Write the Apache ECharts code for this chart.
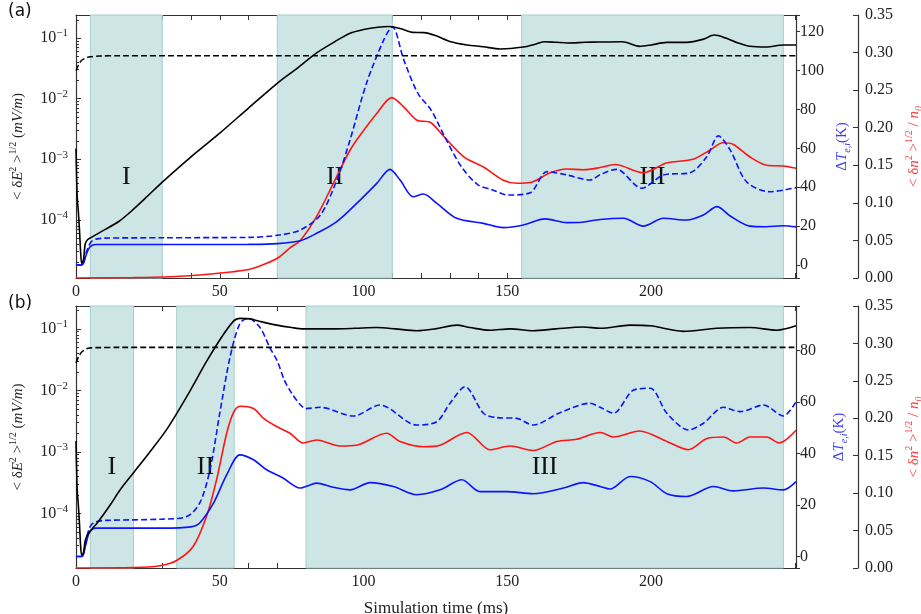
<!DOCTYPE html>
<html>
<head>
<meta charset="utf-8">
<script src="https://cdn.jsdelivr.net/npm/echarts@6/dist/echarts.min.js"></script>
<style>
  html, body { margin: 0; padding: 0; background: #fff; }
  #main { width: 921px; height: 614px; }
</style>
</head>
<body>
<div id="main"></div>
<script>
// time axis (ms)
const tMax = 250.4
const timeTicks = [0, 50, 100, 150, 200]

// shaded stages [start, end] (ms)
const stageNames = ['I', 'II', 'III']
const stagesA = [[5, 30], [70, 110], [155, 246]]
const stagesB = [[5, 20], [35, 55], [80, 246]]

// (a) Regularized
// <dE^2>^1/2 (mV/m), log axis
const aField = [[0, 1.5e-3], [0.4, 2.5e-4], [0.8, 1.4e-4], [1.2, 7e-5], [1.6, 3e-5], [2, 1.9e-5], [2.6, 2.2e-5], [3.2, 4e-5], [4, 4.7e-5], [5.5, 5.2e-5], [10, 6.9e-5], [15, 9.5e-5], [20, 1.5e-4], [25, 2.5e-4], [30, 4.2e-4], [40, 1.1e-3], [50, 2.7e-3], [60, 7e-3], [70.6, 1.9e-2], [77, 3.2e-2], [83.7, 5.7e-2], [90, 8.7e-2], [95.3, 0.12], [100, 0.138], [105, 0.151], [109, 0.155], [113, 0.142], [117, 0.124], [121, 0.123], [125, 0.11], [130, 0.088], [136, 0.077], [141.6, 0.072], [147.5, 0.066], [155.6, 0.071], [160, 0.08], [163, 0.087], [167, 0.085], [171, 0.083], [177, 0.085], [182, 0.086], [190, 0.087], [196, 0.073], [200, 0.077], [205.4, 0.085], [212.4, 0.085], [218, 0.095], [222, 0.112], [226, 0.1], [230, 0.084], [234.4, 0.073], [240, 0.071], [246, 0.077], [250.4, 0.077]]
const aLevel = [[0, 0.029], [1, 0.037], [2, 0.043], [3.5, 0.047], [5, 0.049], [8, 0.0505], [15, 0.051], [250.4, 0.051]]
// dT_e,i (K)
const aTsolid = [[0, 0], [2, 0], [2.5, 0.5], [3.5, 5], [4.5, 8.5], [5.5, 10], [7, 10.5], [20, 10.5], [40, 10.5], [60, 10.6], [70, 11], [78, 12.5], [83.7, 16.3], [90.7, 22.3], [98.8, 33.4], [104.6, 42], [109.2, 49.2], [112.7, 43.7], [117.3, 35.1], [120.8, 36.5], [125.5, 31.7], [132.4, 24], [141.7, 21.4], [148.6, 19.2], [155.6, 20.6], [163.1, 23.7], [170.7, 21.8], [176, 22], [182.3, 23.4], [190.4, 24], [197.3, 20], [204.3, 24], [212.4, 23.1], [218.2, 25.7], [222.9, 30], [227.5, 25.2], [234.4, 20], [240, 19.7], [246, 20.2], [250.4, 19.6]]
const aTdashed = [[0, 0], [2, 0], [2.5, 0.5], [3.5, 6], [4.5, 10], [5.5, 12.2], [7, 13.3], [10, 13.8], [30, 14], [60.5, 14.2], [70.7, 15.4], [78, 18], [85, 25.7], [90.7, 43.7], [95.3, 64.3], [101, 93.4], [107, 115.7], [110, 122.6], [114, 105.5], [118.9, 88.3], [123.5, 79.7], [128.2, 66], [134, 50.6], [139.8, 41.2], [144.4, 38.9], [150.2, 36], [158, 37.2], [163.8, 48], [170.7, 46.3], [178.8, 43.7], [182.3, 46.5], [188, 49.2], [196.7, 39.5], [204.3, 46.3], [213.6, 47.5], [219.4, 55.7], [223.4, 66.4], [227.5, 59.2], [233.2, 42.8], [241.3, 37.7], [250.4, 39.8]]
// <dn^2>^1/2 / n0
const aDn = [[0, 0], [20, 0.0005], [33, 0.0017], [43, 0.004], [54.7, 0.0084], [60.5, 0.0116], [66.3, 0.0196], [70.7, 0.028], [74.4, 0.04], [78, 0.05], [83.7, 0.082], [89.5, 0.126], [95.3, 0.17], [98.8, 0.19], [104.6, 0.219], [109.8, 0.24], [113.9, 0.228], [118.6, 0.21], [123.3, 0.207], [128, 0.188], [135, 0.161], [141.6, 0.148], [148.6, 0.13], [153.3, 0.126], [158, 0.127], [164.9, 0.14], [170.7, 0.145], [176.5, 0.144], [182.3, 0.147], [187.5, 0.151], [197.3, 0.14], [205.4, 0.153], [214.6, 0.158], [220.4, 0.17], [225, 0.18], [228.5, 0.178], [234.4, 0.161], [240.2, 0.15], [246, 0.149], [250.4, 0.146]]

// (b) Unregularized
const bField = [[0, 1.5e-3], [0.4, 2.5e-4], [0.8, 1.4e-4], [1.2, 7e-5], [1.6, 3e-5], [2, 2.1e-5], [2.6, 2.3e-5], [3.2, 3.6e-5], [4, 4.5e-5], [5.5, 5.5e-5], [8.3, 8e-5], [12, 1.4e-4], [15.3, 2.4e-4], [20, 4.6e-4], [25, 9.1e-4], [31.5, 2.3e-3], [38.5, 7.9e-3], [45.4, 2.95e-2], [50, 6.6e-2], [54.7, 0.132], [57, 0.148], [60.5, 0.145], [64, 0.132], [69.8, 0.115], [75, 0.105], [79, 0.1], [84, 0.1], [89.5, 0.1], [97, 0.102], [104.6, 0.105], [111, 0.1], [118.5, 0.093], [125, 0.1], [132.4, 0.115], [137, 0.105], [144, 0.095], [151, 0.1], [159, 0.093], [167, 0.1], [176.4, 0.107], [182.3, 0.102], [192.7, 0.115], [199.7, 0.112], [211.2, 0.091], [222.8, 0.102], [234.4, 0.105], [243.7, 0.095], [250.4, 0.112]]
const bLevel = [[0, 0.028], [1, 0.036], [2, 0.042], [3.5, 0.047], [5, 0.049], [8, 0.0495], [15, 0.05], [250.4, 0.05]]
const bTsolid = [[0, 0], [2, 0], [2.5, 0.5], [3.5, 5], [4.5, 9], [5.5, 10.5], [7, 11], [30, 11], [40, 11.5], [43, 13], [47.8, 20.7], [52.4, 31.7], [57, 39.5], [61.7, 37.6], [66.3, 33.7], [72, 30.5], [77.9, 26.6], [81.4, 27.8], [83.7, 28.5], [89, 27], [95.3, 25.9], [102.3, 28.7], [110.4, 27.2], [118.5, 24], [126.6, 25.9], [134.2, 29.8], [140.5, 25.2], [149.8, 25.2], [159, 24.4], [169.5, 26.6], [176.4, 28.7], [182.3, 27.2], [185.7, 26.2], [192.7, 31.1], [199.7, 29.1], [205.5, 24.4], [212.4, 23.3], [221.7, 27.2], [228.6, 25.5], [239.1, 26.6], [246, 25.9], [250.4, 29.1]]
const bTdashed = [[0, 0], [2, 0], [2.5, 0.5], [3.5, 6], [4.5, 10.5], [5.5, 12.5], [7, 13.5], [10, 14], [30, 14.5], [38.5, 15.5], [43, 20.7], [46.6, 33.7], [50, 55.7], [53.6, 77.7], [57, 90.6], [59.9, 92.6], [64, 89], [67.5, 81], [70, 76], [72.5, 68.5], [75, 63.5], [78, 59], [80, 57.5], [84.9, 58], [96.5, 54.6], [105.7, 58.9], [118.5, 51.1], [125.5, 52.4], [130.1, 59.6], [135.3, 66], [141.7, 55.7], [146.3, 54], [153.3, 53.7], [159, 51.1], [168.3, 55.9], [178.8, 59.6], [182.3, 58], [186.9, 55.7], [193.9, 64.7], [199.7, 65.4], [205.5, 55.7], [213, 49.2], [218.2, 51.8], [225.2, 58], [231, 56.3], [239.1, 58.9], [246, 54.6], [250.4, 60.2]]
const bDn = [[0, 0], [20, 0.0005], [29.2, 0.003], [35, 0.01], [40.8, 0.029], [45.4, 0.069], [48.9, 0.118], [52.4, 0.18], [54.7, 0.207], [57, 0.216], [61.7, 0.213], [65.2, 0.2], [69.8, 0.189], [74.4, 0.18], [79, 0.167], [83.7, 0.171], [91.8, 0.163], [97.6, 0.164], [108, 0.18], [112.7, 0.169], [120.8, 0.162], [126.6, 0.164], [135.9, 0.181], [144, 0.158], [151, 0.163], [159, 0.157], [167.2, 0.169], [174.1, 0.172], [182.3, 0.181], [187, 0.175], [196, 0.183], [205.5, 0.169], [213, 0.158], [219.4, 0.173], [225.2, 0.175], [229.8, 0.167], [234.4, 0.175], [240.2, 0.175], [244.5, 0.167], [250.4, 0.184]]

const serif = '"Liberation Serif", serif'
const frame = { color: '#333', width: 1.2 }
const blue = '#0a14ff'
const red = '#ff1414'

var chartDom = document.getElementById('main')
var myChart = echarts.init(chartDom)
var option

// 10^n labels for the log axis
function powLabel(v) {
  const e = Math.log10(v)
  const r = Math.round(e)
  if (Math.abs(e - r) > 1e-6) return ''
  return '{b|10}{s|' + (r < 0 ? '\u2212' + (-r) : r) + '}'
}

function xTime(gridIndex, position, showLabel, name) {
  return {
    type: 'value',
    gridIndex: gridIndex,
    position: position,
    min: 0,
    max: tMax,
    interval: 10,
    axisLine: { onZero: false, lineStyle: frame },
    axisTick: { inside: true, length: 5, lineStyle: { color: '#333' } },
    splitLine: { show: false },
    axisLabel: {
      show: showLabel,
      margin: 6,
      fontFamily: serif,
      fontSize: 16,
      color: '#222',
      formatter: v => timeTicks.includes(v) ? String(v) : ''
    },
    name: name,
    nameLocation: 'middle',
    nameGap: 32,
    nameTextStyle: { fontFamily: serif, fontSize: 17, color: '#222' }
  }
}

function yField(gridIndex, min, max) {
  return {
    type: 'log',
    logBase: 10,
    gridIndex: gridIndex,
    position: 'left',
    min: min,
    max: max,
    axisLine: { show: true, lineStyle: frame },
    axisTick: { inside: true, length: 5, lineStyle: { color: '#333' } },
    minorTick: { show: true, splitNumber: 9, length: 3, lineStyle: { color: '#333' } },
    splitLine: { show: false },
    axisLabel: {
      margin: 8,
      formatter: powLabel,
      rich: {
        b: { fontFamily: serif, fontSize: 16, color: '#222', lineHeight: 20 },
        s: { fontFamily: serif, fontSize: 11, color: '#222', lineHeight: 12, verticalAlign: 'top' }
      }
    },
    name: '{t|< \u03b4}{i|E}{s|2}{t| >}{s|1/2}{t| (}{i|mV/m}{t|)}',
    nameLocation: 'middle',
    nameRotate: 90,
    nameGap: 48,
    nameTextStyle: {
      rich: {
        t: { fontFamily: serif, fontSize: 15, color: '#222', lineHeight: 20 },
        i: { fontFamily: serif, fontSize: 15, fontStyle: 'italic', color: '#222', lineHeight: 20 },
        s: { fontFamily: serif, fontSize: 10, color: '#222', lineHeight: 11, verticalAlign: 'top' }
      }
    }
  }
}

function yTemp(gridIndex, min, max, splitNumber) {
  return {
    type: 'value',
    gridIndex: gridIndex,
    position: 'right',
    min: min,
    max: max,
    splitNumber: splitNumber,
    axisLine: { show: true, onZero: false, lineStyle: frame },
    axisTick: { inside: false, length: 4, lineStyle: { color: '#333' } },
    splitLine: { show: false },
    axisLabel: {
      margin: 4,
      fontFamily: serif,
      fontSize: 16,
      color: '#222',
      formatter: v => (Math.abs(v % 20) < 1e-9 ? String(v) : '')
    },
    name: '{t|\u0394}{i|T}{sub|e,i}{t|(K)}',
    nameLocation: 'middle',
    nameRotate: 90,
    nameGap: 33,
    nameTextStyle: {
      rich: {
        t: { fontFamily: serif, fontSize: 15, color: '#3a3aff', lineHeight: 20 },
        i: { fontFamily: serif, fontSize: 15, fontStyle: 'italic', color: '#3a3aff', lineHeight: 20 },
        sub: { fontFamily: serif, fontSize: 10, fontStyle: 'italic', color: '#3a3aff', lineHeight: 11, verticalAlign: 'bottom' }
      }
    }
  }
}

function yDens(gridIndex) {
  return {
    type: 'value',
    gridIndex: gridIndex,
    position: 'right',
    offset: 62,
    min: 0,
    max: 0.35,
    interval: 0.05,
    axisLine: { show: true, onZero: false, lineStyle: frame },
    axisTick: { inside: true, length: 5, lineStyle: { color: '#333' } },
    splitLine: { show: false },
    axisLabel: {
      margin: 7,
      fontFamily: serif,
      fontSize: 16,
      color: '#222',
      formatter: v => v.toFixed(2)
    },
    name: '{t|< \u03b4}{i|n}{s|2}{t| >}{s|1/2}{t| / }{i|n}{sub|0}',
    nameLocation: 'middle',
    nameRotate: 90,
    nameGap: 44,
    nameTextStyle: {
      rich: {
        t: { fontFamily: serif, fontSize: 15, color: '#ff3a3a', lineHeight: 20 },
        i: { fontFamily: serif, fontSize: 15, fontStyle: 'italic', color: '#ff3a3a', lineHeight: 20 },
        s: { fontFamily: serif, fontSize: 10, color: '#ff3a3a', lineHeight: 11, verticalAlign: 'top' },
        sub: { fontFamily: serif, fontSize: 10, fontStyle: 'italic', color: '#ff3a3a', lineHeight: 11, verticalAlign: 'bottom' }
      }
    }
  }
}

function line(xi, yi, data, color, dashed) {
  return {
    type: 'line',
    xAxisIndex: xi,
    yAxisIndex: yi,
    data: data,
    showSymbol: false,
    symbol: 'none',
    smooth: 0.3,
    silent: true,
    z: 3,
    lineStyle: { color: color, width: 1.6, type: dashed ? [6, 3] : 'solid' },
    itemStyle: { color: color }
  }
}

function panel(xi, yi, stages, d) {
  return [
    {
      // 阶段阴影
      type: 'line',
      xAxisIndex: xi,
      yAxisIndex: yi + 2,
      data: [],
      silent: true,
      z: 1,
      markArea: {
        silent: true,
        itemStyle: { color: '#cde5e4', borderColor: '#a6cfcf', borderWidth: 1 },
        label: {
          show: true,
          position: ['50%', '61.5%'],
          align: 'center',
          verticalAlign: 'middle',
          fontFamily: serif,
          fontSize: 26,
          color: '#111'
        },
        data: stages.map((s, i) => [{ xAxis: s[0], name: stageNames[i] }, { xAxis: s[1] }])
      }
    },
    line(xi, yi + 2, d.dn, red, false),
    line(xi, yi + 1, d.td, blue, true),
    line(xi, yi + 1, d.ts, blue, false),
    line(xi, yi, d.level, '#000', true),
    line(xi, yi, d.field, '#000', false)
  ]
}

option = {
  backgroundColor: '#fff',
  animation: false,
  grid: [
    { left: 76, top: 15, width: 720, height: 263, outerBoundsMode: 'none' },
    { left: 76, top: 306, width: 720, height: 262, outerBoundsMode: 'none' }
  ],
  xAxis: [
    xTime(0, 'bottom', true, ''),
    xTime(0, 'top', false, ''),
    xTime(1, 'bottom', true, 'Simulation time (ms)'),
    xTime(1, 'top', false, '')
  ],
  yAxis: [
    yField(0, 1.1e-5, 0.24),
    yTemp(0, -6.7, 128.6, 7),
    yDens(0),
    yField(1, 1.3e-5, 0.235),
    yTemp(1, -4.5, 97.4, 5),
    yDens(1)
  ],
  graphic: [
    { type: 'text', left: 8, top: 3, style: { text: '(a)', font: '17px "DejaVu Sans"', fill: '#111' } },
    { type: 'text', left: 8, top: 295, style: { text: '(b)', font: '17px "DejaVu Sans"', fill: '#111' } },
    { type: 'text', x: 683, y: 248, style: { text: 'Regularized', font: '25px "Liberation Serif"', fill: '#111', textAlign: 'center', textVerticalAlign: 'middle' } },
    { type: 'text', x: 700, y: 538, style: { text: 'Unregularized', font: '26px "Liberation Serif"', fill: '#111', textAlign: 'center', textVerticalAlign: 'middle' } }
  ],
  series: [].concat(
    panel(0, 0, stagesA, { field: aField, level: aLevel, ts: aTsolid, td: aTdashed, dn: aDn }),
    panel(2, 3, stagesB, { field: bField, level: bLevel, ts: bTsolid, td: bTdashed, dn: bDn })
  )
}

option && myChart.setOption(option)
</script>
</body>
</html>
